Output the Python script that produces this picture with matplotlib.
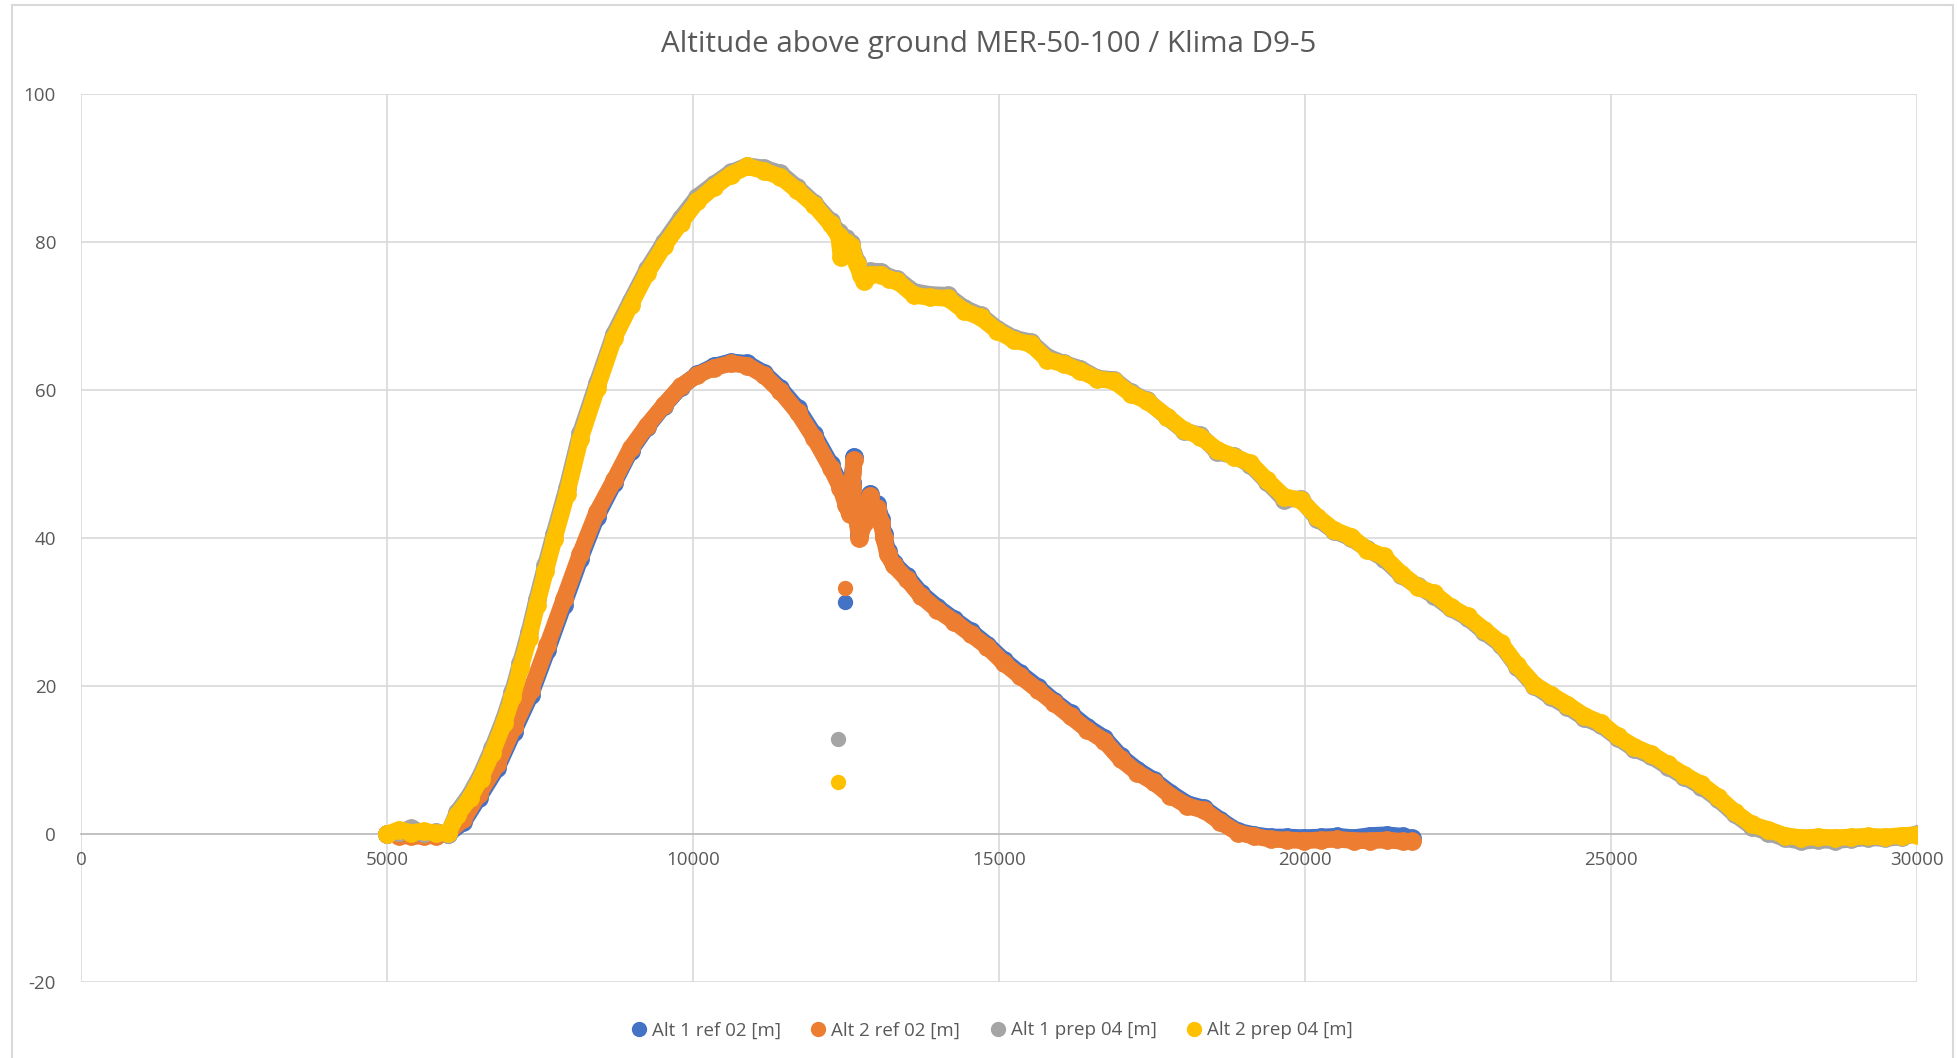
import matplotlib.pyplot as plt
import matplotlib.patches as patches

plt.rcParams['font.family'] = ['Open Sans', 'DejaVu Sans']
plt.rcParams['axes.unicode_minus'] = False

# --- data ---
x_ref = [5000, 5200, 5400, 5600, 5800, 6000, 6250, 6500, 6800, 7070,
         7350, 7620, 7890, 8160, 8430, 8710, 8980, 9250, 9530, 9800,
         10070, 10340, 10620, 10890, 11160, 11430, 11710, 11980, 12250, 12410,
         12500, 12560, 12600, 12630, 12600, 12660, 12720, 12800, 12900, 12960,
         13010, 13080, 13120, 13180, 13280, 13500, 13720, 13990, 14270, 14540,
         14810, 15080, 15350, 15630, 15900, 16170, 16440, 16720, 16990, 17260,
         17530, 17800, 18080, 18350, 18620, 18900, 19170, 19440, 19710, 19980,
         20260, 20530, 20800, 21070, 21340, 21600, 21750]
alt1_ref = [0.0, 0.1, -0.1, 0.0, -0.1, 0.0, 1.6, 4.9, 8.9, 13.8,
            18.8, 24.8, 31.0, 37.2, 42.9, 47.4, 51.8, 55.0, 57.9, 60.4,
            62.1, 63.2, 63.8, 63.6, 62.3, 60.2, 57.5, 54.0, 50.0, 47.2,
            45.0, 43.6, 47.5, 51.0, 47.0, 43.7, 40.4, 42.4, 46.0, 43.5,
            44.6, 42.5, 40.5, 38.3, 36.6, 34.8, 32.6, 30.7, 29.0, 27.4,
            25.6, 23.5, 21.7, 19.9, 18.0, 16.3, 14.5, 13.0, 10.5, 8.7,
            7.3, 5.6, 4.1, 3.5, 1.9, 0.4, -0.1, -0.4, -0.4, -0.5,
            -0.4, -0.3, -0.5, -0.2, -0.1, -0.3, -0.6]
alt2_ref = [0.0, -0.2, -0.3, -0.3, -0.2, 0.2, 2.0, 5.4, 9.4, 14.4,
            19.4, 25.5, 31.7, 37.9, 43.5, 47.8, 52.1, 55.2, 58.0, 60.5,
            62.0, 63.0, 63.6, 63.3, 62.0, 59.8, 57.0, 53.5, 49.5, 46.8,
            44.5, 43.2, 47.0, 50.5, 46.5, 43.3, 40.0, 42.0, 45.7, 43.0,
            44.1, 42.0, 40.0, 37.8, 36.3, 34.4, 32.2, 30.3, 28.7, 27.0,
            25.3, 23.1, 21.3, 19.5, 17.7, 15.9, 14.1, 12.6, 10.1, 8.3,
            7.0, 5.2, 3.8, 3.2, 1.6, 0.2, -0.3, -0.7, -0.8, -0.9,
            -0.8, -0.7, -0.9, -0.9, -0.8, -1.0, -1.0]

x_prep = [5000, 5200, 5400, 5600, 5800, 6000, 6150, 6350, 6530, 6720,
          6910, 7050, 7180, 7320, 7450, 7590, 7730, 7940, 8160, 8430,
          8710, 8980, 9250, 9530, 9800, 10070, 10340, 10620, 10890, 11160,
          11430, 11700, 11980, 12250, 12380, 12420, 12500, 12580, 12680, 12740,
          12800, 12900, 13070, 13200, 13340, 13610, 13880, 14160, 14430, 14700,
          14970, 15250, 15520, 15790, 16060, 16330, 16610, 16880, 17150, 17420,
          17750, 18020, 18290, 18570, 18840, 19110, 19380, 19660, 19930, 20200,
          20470, 20750, 21020, 21290, 21570, 21840, 22110, 22380, 22660, 22930,
          23200, 23470, 23750, 24020, 24290, 24560, 24840, 25110, 25380, 25660,
          25930, 26200, 26480, 26750, 27020, 27300, 27570, 27840, 28110, 28390,
          28660, 28930, 29200, 29480, 29750, 30000]
alt1_prep = [0.0, 0.3, 0.8, 0.1, 0.3, 0.0, 3.0, 5.3, 8.0, 11.6,
             15.6, 19.2, 23.1, 27.3, 31.8, 36.3, 40.6, 46.8, 54.2, 60.9,
             67.6, 72.0, 76.3, 80.0, 83.2, 86.1, 87.8, 89.4, 90.3, 90.0,
             89.3, 87.4, 85.3, 82.8, 81.3, 79.2, 80.5, 79.9, 77.3, 75.9,
             75.2, 76.1, 76.0, 75.3, 75.0, 73.3, 72.9, 72.8, 71.1, 70.1,
             68.3, 67.0, 66.5, 64.5, 63.6, 62.9, 61.6, 61.4, 59.7, 58.6,
             56.3, 54.5, 53.9, 51.6, 51.1, 49.9, 47.6, 45.2, 45.3, 42.6,
             41.0, 40.0, 38.5, 37.2, 35.0, 33.5, 32.2, 30.5, 29.2, 27.3,
             25.6, 22.6, 20.0, 18.5, 17.2, 15.7, 14.7, 13.0, 11.5, 10.5,
             9.1, 7.7, 6.4, 4.7, 2.7, 1.0, 0.2, -0.6, -1.0, -0.8,
             -0.9, -0.7, -0.5, -0.6, -0.4, 0.0]
alt2_prep = [0.0, 0.6, 0.2, 0.4, 0.1, 0.2, 2.6, 4.8, 7.5, 11.0,
             15.0, 18.5, 22.4, 26.5, 31.0, 35.5, 39.8, 46.0, 53.4, 60.2,
             67.0, 71.5, 75.8, 79.5, 82.6, 85.5, 87.4, 89.1, 90.2, 89.6,
             88.8, 87.0, 85.0, 82.4, 80.8, 78.0, 80.0, 79.5, 77.0, 75.5,
             74.7, 75.6, 75.6, 75.0, 74.7, 72.8, 72.5, 72.4, 70.7, 69.8,
             68.0, 66.7, 66.2, 64.1, 63.5, 62.6, 61.5, 61.2, 59.5, 58.5,
             56.4, 54.6, 53.7, 51.9, 51.0, 50.1, 47.8, 45.6, 45.1, 42.9,
             41.1, 40.2, 38.4, 37.5, 35.2, 33.4, 32.5, 30.7, 29.4, 27.6,
             25.8, 22.8, 20.2, 18.8, 17.5, 16.0, 15.0, 13.2, 11.8, 10.8,
             9.4, 8.0, 6.7, 5.0, 3.0, 1.3, 0.6, -0.2, -0.5, -0.4,
             -0.5, -0.4, -0.3, -0.4, -0.2, -0.1]

# stray samples near 12400
x_ref_stray = [12478]
alt1_ref_stray = [31.3]
alt2_ref_stray = [33.3]
x_prep_stray = [12370]
alt1_prep_stray = [12.9]
alt2_prep_stray = [7.0]

labels = ["Alt 1 ref 02 [m]", "Alt 2 ref 02 [m]", "Alt 1 prep 04 [m]", "Alt 2 prep 04 [m]"]
colors = ["#4472C4", "#ED7D31", "#A5A5A5", "#FFC000"]

fig = plt.figure(figsize=(19.57, 10.58), dpi=100)
ax = fig.add_axes([0.0414, 0.0718, 0.9381, 0.8394])

series = [(x_ref, alt1_ref, x_ref_stray, alt1_ref_stray),
          (x_ref, alt2_ref, x_ref_stray, alt2_ref_stray),
          (x_prep, alt1_prep, x_prep_stray, alt1_prep_stray),
          (x_prep, alt2_prep, x_prep_stray, alt2_prep_stray)]
for (xs, ys, xo, yo), lab, c in zip(series, labels, colors):
    ax.plot(xs, ys, '-o', color=c, lw=12, ms=12.5, solid_capstyle='round',
            solid_joinstyle='round', label=lab, zorder=3)
    ax.plot(xo, yo, 'o', color=c, ms=10, zorder=3)

ax.set_xlim(0, 30000)
ax.set_ylim(-20, 100)
ax.set_xticks(range(0, 30001, 5000))
ax.set_yticks(range(-20, 101, 20))
ax.grid(True, color="#d9d9d9", lw=1.2, zorder=0)
for s in ['top', 'right', 'left']:
    ax.spines[s].set_visible(False)
ax.spines['bottom'].set_position(('data', 0))
ax.spines['bottom'].set_color("#bfbfbf")
ax.spines['bottom'].set_linewidth(1.3)
ax.tick_params(length=0, labelsize=13.5, labelcolor="#595959")
ax.tick_params(axis='x', pad=12)
ax.tick_params(axis='y', pad=18)

fig.text(0.505, 0.958, "Altitude above ground MER-50-100 / Klima D9-5",
         ha='center', va='center', fontsize=21.3, color="#595959")

handles = [plt.Line2D([], [], ls='', marker='o', ms=10, color=c) for c in colors]
fig.legend(handles, labels, loc='center', bbox_to_anchor=(0.506, 0.026), ncol=4,
           frameon=False, fontsize=13.5, labelcolor="#595959",
           handletextpad=0.1, columnspacing=1.4, handlelength=1.2)

# chart area border
fig.add_artist(patches.Rectangle((0.006, -0.01), 0.992, 1.005, transform=fig.transFigure,
                                 fill=False, edgecolor="#d9d9d9", lw=1.5))

fig.savefig("out.png", dpi=100)
